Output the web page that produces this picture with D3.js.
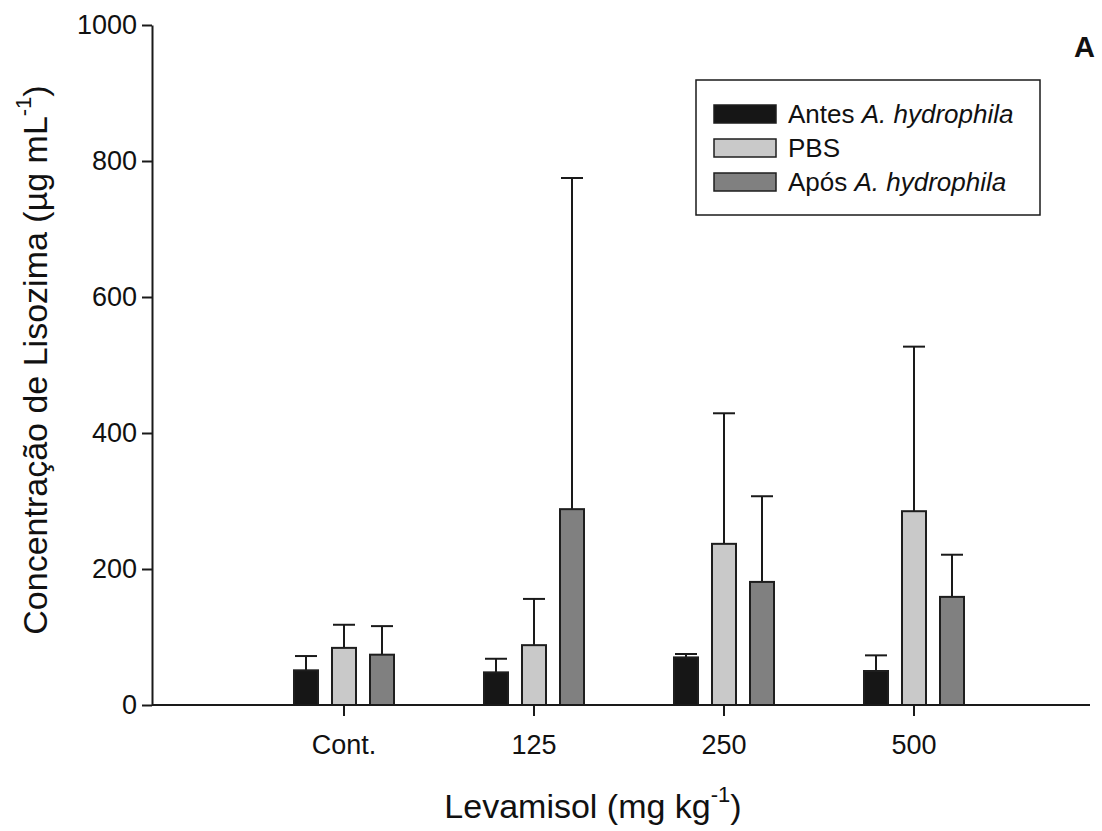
<!DOCTYPE html>
<html>
<head>
<meta charset="utf-8">
<script src="https://cdn.jsdelivr.net/npm/d3@7"></script>
<style>
  body { margin: 0; background: #fff; }
  text { font-family: Arial, "Liberation Sans", sans-serif; fill: #111; }
</style>
</head>
<body>
<div id="chart"></div>
<script>
// data
const doses = ["Cont.", "125", "250", "500"];
const series = ["Antes", "PBS", "Apos"];
const antesMean = [51, 48, 70, 50];
const antesErr  = [72, 68, 75, 73];
const pbsMean   = [84, 88, 237, 285];
const pbsErr    = [118, 156, 429, 527];
const aposMean  = [74, 288, 181, 159];
const aposErr   = [116, 775, 307, 221];
const yTicks = [0, 200, 400, 600, 800, 1000];

const colors = { Antes: "#161616", PBS: "#c9c9c9", Apos: "#808080" };
const font = "Arial, 'Liberation Sans', sans-serif";

const width = 1102, height = 831;
const svg = d3.select("#chart").append("svg")
  .attr("width", width).attr("height", height);

const y = d3.scaleLinear().domain([0, 1000]).range([705, 25]);
const x = d3.scaleBand().domain(doses).range([249, 1009]).padding(0);
const xs = d3.scalePoint().domain(series).range([-38, 38]);
const barW = 24;

// build rows from the arrays
const rows = [];
doses.forEach((d, i) => {
  rows.push({ dose: d, s: "Antes", v: antesMean[i], e: antesErr[i] });
  rows.push({ dose: d, s: "PBS", v: pbsMean[i], e: pbsErr[i] });
  rows.push({ dose: d, s: "Apos", v: aposMean[i], e: aposErr[i] });
});
const cx = r => x(r.dose) + x.bandwidth() / 2 + xs(r.s);

// error bars (upper only)
const err = svg.append("g").attr("stroke", "#1a1a1a").attr("stroke-width", 2);
err.selectAll("line.v").data(rows).enter().append("line")
  .attr("x1", cx).attr("x2", cx)
  .attr("y1", d => y(d.v)).attr("y2", d => y(d.e));
err.selectAll("line.c").data(rows).enter().append("line")
  .attr("x1", d => cx(d) - 11).attr("x2", d => cx(d) + 11)
  .attr("y1", d => y(d.e)).attr("y2", d => y(d.e));

// bars
svg.append("g").selectAll("rect").data(rows).enter().append("rect")
  .attr("x", d => cx(d) - barW / 2)
  .attr("width", barW)
  .attr("y", d => y(d.v))
  .attr("height", d => y(0) - y(d.v))
  .attr("fill", d => colors[d.s])
  .attr("stroke", "#1e1e1e")
  .attr("stroke-width", 2);

// y axis
const yAxis = svg.append("g").attr("transform", "translate(152,0)")
  .call(d3.axisLeft(y).tickValues(yTicks).tickFormat(d3.format("d"))
    .tickSize(10).tickPadding(5).tickSizeOuter(0));
yAxis.select(".domain").attr("stroke-width", 2).attr("stroke", "#1a1a1a");
yAxis.selectAll(".tick line").attr("stroke-width", 2).attr("stroke", "#1a1a1a");
yAxis.selectAll("text").style("font-size", "27px").attr("fill", "#111")
  .style("font-family", font);

// x axis
const xAxis = svg.append("g").attr("transform", "translate(0,705)")
  .call(d3.axisBottom(x).tickSize(11).tickPadding(19).tickSizeOuter(0));
xAxis.select(".domain").remove();
xAxis.append("line").attr("x1", 152).attr("x2", 1090).attr("y1", 0).attr("y2", 0)
  .attr("stroke", "#1a1a1a").attr("stroke-width", 2);
xAxis.selectAll(".tick line").attr("stroke-width", 2).attr("stroke", "#1a1a1a");
xAxis.selectAll("text").style("font-size", "27px").attr("fill", "#111")
  .style("font-family", font);

// axis titles
const xt = svg.append("text").attr("x", 593).attr("y", 818)
  .attr("text-anchor", "middle").style("font-size", "34px");
xt.append("tspan").text("Levamisol (mg kg");
xt.append("tspan").attr("dy", -16).style("font-size", "22px").text("-1");
xt.append("tspan").attr("dy", 16).text(")");

const yt = svg.append("text")
  .attr("transform", "translate(47,360) rotate(-90)")
  .attr("text-anchor", "middle").style("font-size", "34px");
yt.append("tspan").text("Concentração de Lisozima (µg mL");
yt.append("tspan").attr("dy", -16).style("font-size", "22px").text("-1");
yt.append("tspan").attr("dy", 16).text(")");

// panel letter
svg.append("text").attr("x", 1074).attr("y", 57).style("font-size", "29px")
  .style("font-weight", "bold").text("A");

// legend
const leg = svg.append("g");
leg.append("rect").attr("x", 696).attr("y", 80).attr("width", 344).attr("height", 135)
  .attr("fill", "#fff").attr("stroke", "#1a1a1a").attr("stroke-width", 1.5);
const legLabels = [
  [{ t: "Antes " }, { t: "A. hydrophila", i: true }],
  [{ t: "PBS" }],
  [{ t: "Após " }, { t: "A. hydrophila", i: true }]
];
const legY = d3.scalePoint().domain(series).range([114, 182]);
series.forEach((s, i) => {
  leg.append("rect").attr("x", 714).attr("y", legY(s) - 9).attr("width", 62).attr("height", 18)
    .attr("fill", colors[s]).attr("stroke", "#1e1e1e").attr("stroke-width", 1.5);
  const t = leg.append("text").attr("x", 788).attr("y", legY(s) + 9).style("font-size", "26px");
  legLabels[i].forEach(p => t.append("tspan").style("font-style", p.i ? "italic" : "normal").text(p.t));
});
</script>
</body>
</html>
